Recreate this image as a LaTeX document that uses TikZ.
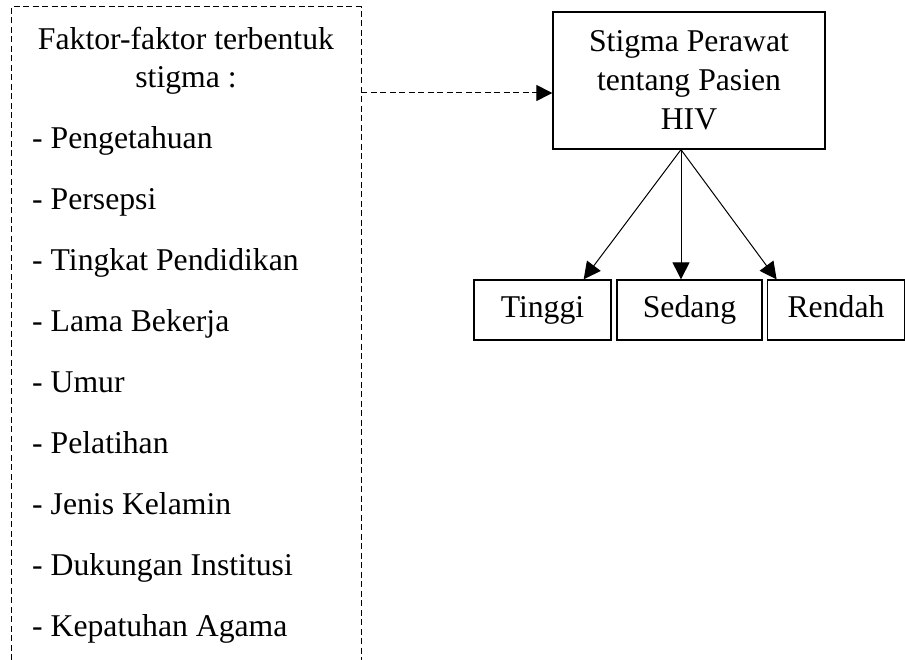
\documentclass[tikz,border=0pt]{standalone}
\usepackage{fontspec}
\setmainfont{Liberation Serif}
\usetikzlibrary{arrows.meta,calc}
\begin{document}
\begin{tikzpicture}[x=1pt,y=-1pt,
  txt/.style={inner sep=0pt,font=\fontsize{31.7}{39}\selectfont},
  listitem/.style={txt,anchor=base west},
  boxmain/.style={draw,line width=1.3pt,txt,align=center,minimum width=272pt,minimum height=137pt},
  leafbox/.style={draw,line width=1.3pt,txt,minimum height=60pt,text height=21.6pt,text depth=6.9pt},
  dashline/.style={line width=1pt,dash pattern=on 6pt off 3.5pt},
  arr/.style={line width=1pt,-{Triangle[length=17pt,width=17pt]}}]
\useasboundingbox (0,0) rectangle (905,660);
% left dashed box (open at the bottom)
\draw[dashline] (11,660) -- (11,7) -- (361,7) -- (361,660);
\coordinate (lbr) at (361,93);
\node[txt,anchor=base] (h1) at (186,50) {Faktor-faktor terbentuk};
\node[txt,anchor=base] (h2) at (186,88) {stigma :};
\foreach \t [count=\i from 0] in {Pengetahuan,Persepsi,Tingkat Pendidikan,Lama Bekerja,Umur,Pelatihan,Jenis Kelamin,Dukungan Institusi,Kepatuhan Agama}
  \node[listitem] (f\i) at (32,{149+60.9*\i}) {- \t};
% main box
\node[boxmain] (main) at (689,80.5) {Stigma Perawat\\tentang Pasien\\HIV};
% leaves
\node[leafbox,minimum width=137pt] (tinggi) at (542.5,310) {Tinggi};
\node[leafbox,minimum width=145pt] (sedang) at (689.5,310) {Sedang};
\node[leafbox,minimum width=137.5pt] (rendah) at (836,310) {Rendah};
% connectors
\draw[dashline,-{Triangle[length=16pt,width=16pt]}] (lbr) -- (lbr -| main.west);
\coordinate (src) at ($(main.south)+(-8,0)$);
\draw[arr] (src) -- ($(tinggi.north east)+(-28,0)$);
\draw[arr] (src) -- (src |- sedang.north);
\draw[arr] (src) -- ($(rendah.north west)+(10,0)$);
\end{tikzpicture}
\end{document}
